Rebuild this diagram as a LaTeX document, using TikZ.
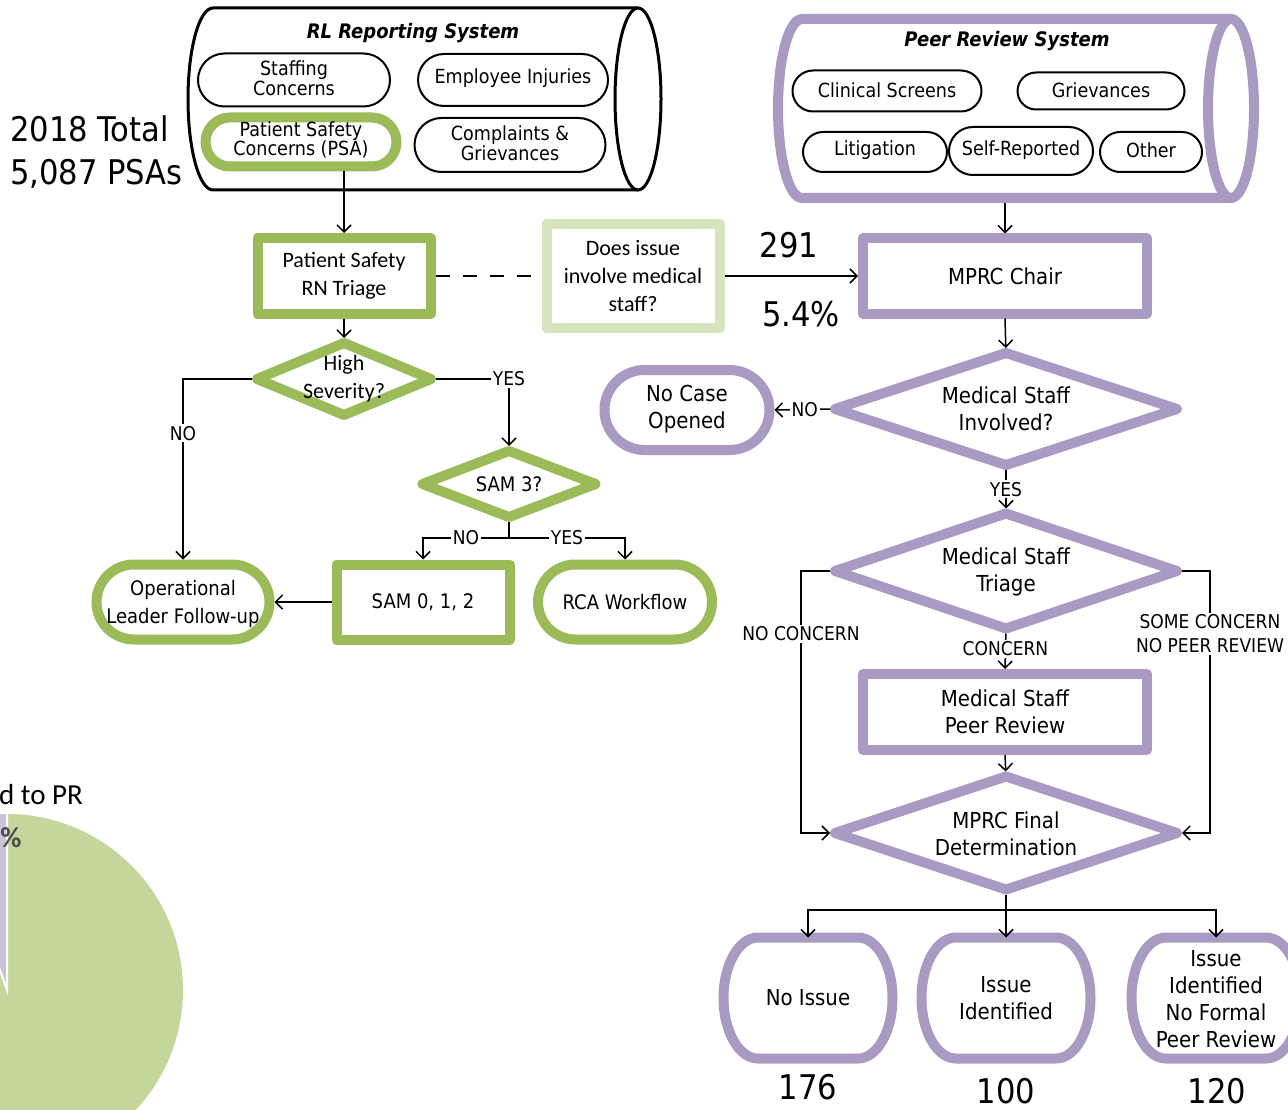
\documentclass[tikz,border=0pt]{standalone}
\usepackage{fontspec}
\setmainfont{DejaVu Sans Condensed}
\newfontfamily\calfont{Carlito}
\usetikzlibrary{shapes.geometric,shapes.misc,arrows.meta,calc}
\definecolor{gr}{RGB}{155,187,89}
\definecolor{lgr}{RGB}{215,228,189}
\definecolor{pu}{RGB}{168,154,194}
\definecolor{piegr}{RGB}{195,214,155}
\definecolor{piepu}{RGB}{204,193,218}
\tikzset{
 tx/.style={font=\fontsize{22pt}{27pt}\selectfont, align=center, inner sep=0pt},
 stx/.style={font=\fontsize{19.5pt}{19.5pt}\selectfont, align=center, inner sep=0pt},
 gtx/.style={font=\fontsize{20pt}{28pt}\selectfont, align=center, inner sep=0pt},
 ctx/.style={font=\calfont\fontsize{22pt}{28pt}\selectfont, align=center, inner sep=0pt},
 bpill/.style={rounded rectangle, draw=black, line width=2pt, fill=white, inner sep=0pt},
 gpill/.style={rounded rectangle, draw=gr, line width=10pt, fill=white, inner sep=0pt},
 ppill/.style={rounded rectangle, draw=pu, line width=10pt, fill=white, inner sep=0pt},
 gbox/.style={rectangle, draw=gr, line width=10pt, line join=round, fill=white, inner sep=0pt},
 lgbox/.style={rectangle, draw=lgr, line width=10pt, line join=round, fill=white, inner sep=0pt},
 pbox/.style={rectangle, draw=pu, line width=10pt, line join=round, fill=white, inner sep=0pt},
 gdia/.style={diamond, draw=gr, line width=10pt, line join=round, fill=white, inner sep=0pt, outer sep=0pt},
 pdia/.style={diamond, draw=pu, line width=10pt, line join=round, fill=white, inner sep=0pt, outer sep=0pt},
 ovalshape/.style={rectangle, draw=none, minimum width=169pt, minimum height=121pt, inner sep=0pt, outer sep=0pt},
 ovalline/.style={draw=pu, line width=10pt, fill=white},
 conn/.style={line width=1.5pt},
 arr/.style={line width=1.5pt, -{Straight Barb[length=7pt,width=14pt]}},
 lbl/.style={fill=white, inner sep=2pt, font=\fontsize{19pt}{24pt}\selectfont, align=center},
 big/.style={font=\fontsize{34pt}{43pt}\selectfont, inner sep=0pt},
 num/.style={font=\fontsize{34pt}{40pt}\selectfont, inner sep=0pt},
 ttl/.style={font=\bfseries\itshape\fontsize{20pt}{24pt}\selectfont, inner sep=0pt},
 pietx/.style={font=\calfont\fontsize{29pt}{34pt}\selectfont, inner sep=0pt},
}
\newcommand\ovaloutline[1]{%
 \draw[ovalline] ($(#1.north)+(-50,0)$) -- ($(#1.north)+(50,0)$)
   arc[start angle=-90,end angle=90,x radius=34.5,y radius=60.5]
   -- ($(#1.south)+(-50,0)$)
   arc[start angle=90,end angle=270,x radius=34.5,y radius=60.5] -- cycle;}
\begin{document}
\begin{tikzpicture}[x=1pt,y=-1pt]
\useasboundingbox (0,0) rectangle (1288,1110);
\clip (0,0) rectangle (1288,1110);
\fill[white] (0,0) rectangle (1288,1110);

% pie chart fragment
\fill[piegr] (7,990) circle[radius=176];
\fill[piepu] (7,990) -- (7,814) arc[start angle=-90,end angle=-109.4,radius=176] -- cycle;
\draw[white,line width=2pt] (-51.5,824) -- (7,990) -- (7,814);
\node[pietx, anchor=west] (pie1) at (-1,795) {d to PR};
\node[pietx, font=\calfont\bfseries\fontsize{29pt}{34pt}\selectfont, text=black!70] (pie2) at (11,838) {\%};

% totals
\node[big, anchor=west, align=left] (tot) at (10,152) {2018 Total\\5,087 PSAs};

% RL reporting system cylinder
\draw[line width=3pt] (638,8) -- (213,8) arc[start angle=-90,end angle=-270,x radius=25,y radius=91] -- (638,190);
\draw[line width=3pt] (638,99) ellipse[x radius=23,y radius=91];
\node[ttl] (rlt) at (413,33) {RL Reporting System};
\node[bpill, minimum width=192pt, minimum height=53pt] (staff) at (294,80) {};
\node[stx] (stafft) at (294,78) {Staffing\\Concerns};
\node[bpill, minimum width=190pt, minimum height=52pt] (emp) at (513,80) {};
\node[stx] (empt) at (513,78) {Employee Injuries};
\node[gpill, minimum width=191pt, minimum height=49pt] (psa) at (301,142) {};
\node[stx] (psat) at (301,140) {Patient Safety\\Concerns (PSA)};
\node[bpill, minimum width=191pt, minimum height=54pt] (comp) at (510,145) {};
\node[stx] (compt) at (510,143) {Complaints \&\\Grievances};

% Peer review system cylinder
\draw[pu, line width=10pt, line join=round] (1231,19) -- (802,19) arc[start angle=-90,end angle=-270,x radius=24,y radius=89.5] -- (1231,198);
\draw[pu, line width=10pt] (1231,108.5) ellipse[x radius=23,y radius=89.5];
\coordinate (prsb) at (1005,203);
\node[ttl] (prt) at (1007,41) {Peer Review System};
\node[bpill, minimum width=189pt, minimum height=41pt] (clin) at (887,91) {};
\node[stx] (clint) at (887,90) {Clinical Screens};
\node[bpill, minimum width=167pt, minimum height=37pt] (griev) at (1101,91) {};
\node[stx] (grievt) at (1101,90) {Grievances};
\node[bpill, minimum width=144pt, minimum height=40pt] (lit) at (875,152) {};
\node[stx] (litt) at (875,150) {Litigation};
\node[bpill, minimum width=144pt, minimum height=48pt] (self) at (1021,151) {};
\node[stx] (selft) at (1021,150) {Self-Reported};
\node[bpill, minimum width=102pt, minimum height=40pt] (oth) at (1151,152) {};
\node[stx] (otht) at (1151,150) {Other};

% left flow
\node[gbox, minimum width=173pt, minimum height=76pt, ctx] (tri) at (344,276) {Patient Safety\\RN Triage};
\node[lgbox, minimum width=173pt, minimum height=104pt, ctx] (does) at (633,276) {Does issue\\involve medical\\staff?};
\node[gdia, minimum width=174pt, minimum height=72pt] (hs) at (344,379) {};
\node[ctx] (hst) at (344,379) {High\\Severity?};
\node[gdia, minimum width=173pt, minimum height=66pt] (sam3) at (509,484) {};
\node[gtx] (sam3t) at (509,484) {SAM 3?};
\coordinate (j1) at (509,538);
\node[gbox, minimum width=173pt, minimum height=75pt, gtx] (sam) at (423,602) {SAM 0, 1, 2};
\node[gpill, minimum width=174pt, minimum height=75pt] (rca) at (625,602) {};
\node[gtx] (rcat) at (625,602) {RCA Workflow};
\node[gpill, minimum width=173pt, minimum height=75pt] (op) at (183,602) {};
\node[gtx] (opt) at (183,604) {Operational\\Leader Follow-up};

% right flow
\node[pbox, minimum width=284pt, minimum height=75pt, tx] (chair) at (1005,276) {MPRC Chair};
\node[pdia, minimum width=342pt, minimum height=112pt] (msi) at (1006,409) {};
\node[tx] (msit) at (1006,409) {Medical Staff\\Involved?};
\node[ppill, minimum width=165pt, minimum height=80pt] (nocase) at (687,410) {};
\node[tx] (nocaset) at (687,409) {No Case\\Opened};
\node[pdia, minimum width=342pt, minimum height=115pt] (mst) at (1006,571) {};
\node[tx] (mstt) at (1006,572) {Medical Staff\\Triage};
\node[pbox, minimum width=284pt, minimum height=76pt, tx] (mpr) at (1005,712) {Medical Staff\\Peer Review};
\node[pdia, minimum width=342pt, minimum height=113pt] (mfd) at (1006,833) {};
\node[tx] (mfdt) at (1006,834) {MPRC Final\\Determination};
\coordinate (ncx) at (801,833);
\coordinate (scx) at (1210,833);
\coordinate (j2) at (1006,910);

\node[ovalshape] (ni) at (808,998) {};
\ovaloutline{ni}
\node[tx] (nit) at (808,998) {No Issue};
\node[ovalshape] (ii) at (1006,998) {};
\ovaloutline{ii}
\node[tx] (iit) at (1006,998) {Issue\\Identified};
\node[ovalshape] (inf) at (1216,998) {};
\ovaloutline{inf}
\node[tx] (inft) at (1216,999) {Issue\\Identified\\No Formal\\Peer Review};

\node[num] (n291) at (789,245) {291};
\node[num] (n54) at (801,314) {5.4\%};
\node[num] (n176) at (808,1087) {176};
\node[num] (n100) at (1006,1091) {100};
\node[num] (n120) at (1217,1091) {120};

% connectors left
\draw[arr] (tri.north |- psa.south) -- (tri.north);
\draw[conn, dash pattern=on 14pt off 13pt] (tri.east) -- (does.west);
\draw[arr] (does.east) -- (chair.west);
\draw[arr, shorten >=5pt] (tri.south) -- (hs.north);
\draw[arr, shorten <=5pt] (hs.west) -| node[lbl, pos=0.65] (lno1) {NO} (op.north);
\draw[arr, shorten <=5pt, shorten >=5pt] (hs.east) -| node[lbl, pos=0.5] (lyes1) {YES} (sam3.north);
\draw[conn, shorten <=5pt] (sam3.south) -- (j1);
\draw[arr] (j1) -| node[lbl, pos=0.25] (lno2) {NO} (sam.north);
\draw[arr] (j1) -| node[lbl, pos=0.25] (lyes2) {YES} (rca.north);
\draw[arr] (sam.west) -- (op.east);

% connectors right
\draw[arr] (prsb) -- (chair.north);
\draw[arr, shorten >=5pt] (chair.south) -- (msi.north);
\draw[arr, shorten <=5pt] (msi.west) -- node[lbl] (lno3) {NO} (nocase.east);
\draw[arr, shorten <=5pt, shorten >=5pt] (msi.south) -- node[lbl] (lyes3) {YES} (mst.north);
\draw[arr, shorten <=5pt, shorten >=5pt] (mst.west) -| node[lbl, pos=0.62] (lnc) {NO CONCERN} (ncx) -- (mfd.west);
\draw[arr, shorten <=5pt, shorten >=5pt] (mst.east) -| node[lbl, pos=0.62] (lsc) {SOME CONCERN\\NO PEER REVIEW} (scx) -- (mfd.east);
\draw[arr, shorten <=5pt] (mst.south) -- node[lbl] (lcon) {CONCERN} (mpr.north);
\draw[arr, shorten >=5pt] (mpr.south) -- (mfd.north);
\draw[conn, shorten <=5pt] (mfd.south) -- (j2);
\draw[arr] (j2) -| (ni.north);
\draw[arr] (j2) -- (ii.north);
\draw[arr] (j2) -| (inf.north);
\end{tikzpicture}
\end{document}
